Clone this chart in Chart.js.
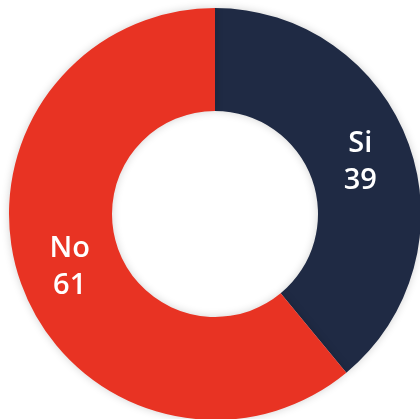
<!DOCTYPE html>
<html>
<head>
<meta charset="utf-8">
<script src="https://cdn.jsdelivr.net/npm/chart.js@4"></script>
<style>
  html, body { margin: 0; padding: 0; background: #ffffff; overflow: hidden; }
  #wrap { position: absolute; left: 0; top: 0; width: 430px; height: 428px; }
</style>
</head>
<body>
<div id="wrap"><canvas id="pollChart" width="430" height="428"></canvas></div>
<script>
  // Data
  const labels = ['Si', 'No'];
  const values = [39, 61];
  const colors = ['#1f2a44', '#e83323'];

  // Draws "label / value" inside each slice
  const sliceLabels = {
    id: 'sliceLabels',
    afterDatasetsDraw(chart) {
      const ctx = chart.ctx;
      const meta = chart.getDatasetMeta(0);
      ctx.save();
      ctx.fillStyle = '#ffffff';
      ctx.font = '600 29px "Open Sans", "Noto Sans", sans-serif';
      ctx.textAlign = 'center';
      ctx.textBaseline = 'middle';
      meta.data.forEach((arc, i) => {
        const p = arc.tooltipPosition();
        ctx.fillText(labels[i], p.x, p.y - 18);
        ctx.fillText(String(values[i]), p.x, p.y + 19);
      });
      ctx.restore();
    }
  };

  // Soft shadow round the ring
  const ringShadow = {
    id: 'ringShadow',
    beforeDatasetsDraw(chart) {
      const ctx = chart.ctx;
      ctx.save();
      ctx.shadowColor = 'rgba(0, 0, 0, 0.18)';
      ctx.shadowBlur = 8;
    },
    afterDatasetsDraw(chart) {
      chart.ctx.restore();
    }
  };

  document.addEventListener('DOMContentLoaded', function() {
    const pollCtx = document.getElementById('pollChart').getContext('2d');
    const pollChart = new Chart(pollCtx, {
      type: 'doughnut',
      data: {
        labels: labels,
        datasets: [{
          data: values,
          backgroundColor: colors,
          borderWidth: 0
        }]
      },
      options: {
        responsive: false,
        animation: false,
        cutout: '50%',
        layout: { padding: 8 },
        plugins: {
          legend: { display: false },
          tooltip: { enabled: false }
        }
      },
      plugins: [ringShadow, sliceLabels]
    });
  });
</script>
</body>
</html>
